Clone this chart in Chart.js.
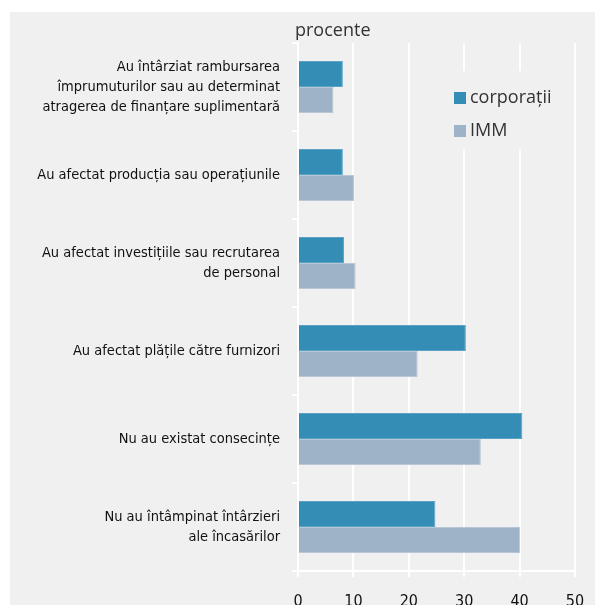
<!DOCTYPE html>
<html>
<head>
<meta charset="utf-8">
<script src="https://cdn.jsdelivr.net/npm/chart.js@4/dist/chart.umd.min.js"></script>
<style>
  html, body { margin: 0; padding: 0; background: #ffffff; }
</style>
</head>
<body>
<canvas id="chart" width="595" height="605"></canvas>
<script>
// categories (multi-line labels)
const categories = [
  ["Au întârziat rambursarea", "împrumuturilor sau au determinat", "atragerea de finanțare suplimentară"],
  "Au afectat producția sau operațiunile",
  ["Au afectat investițiile sau recrutarea", "de personal"],
  "Au afectat plățile către furnizori",
  "Nu au existat consecințe",
  ["Nu au întâmpinat întârzieri", "ale încasărilor"]
];
const corporatii = [8.1, 8.1, 8.3, 30.3, 40.5, 24.8];
const imm = [6.4, 10.1, 10.4, 21.6, 33.0, 40.1];
const seriesNames = ["corporații", "IMM"];
const xTicks = [0, 10, 20, 30, 40, 50];

const colors = ["#348db4", "#9fb3c8"];
const borders = ["#5ba3c6", "#b8c7d6"];
const panelGray = "#f0f0f0";
const labelFont = "'DejaVu Sans Condensed', 'Liberation Sans', sans-serif";
const plainFont = "'Open Sans', 'Noto Sans', sans-serif";

// gray panel + "procente" unit title
const backdrop = {
  id: "backdrop",
  beforeDraw(chart) {
    const ctx = chart.ctx;
    ctx.save();
    ctx.fillStyle = "#ffffff";
    ctx.fillRect(0, 0, chart.width, chart.height);
    ctx.fillStyle = panelGray;
    ctx.fillRect(10, 12, chart.width - 10, chart.height - 12);
    ctx.restore();
  },
  afterDraw(chart) {
    const ctx = chart.ctx;
    const area = chart.chartArea;
    ctx.save();
    ctx.fillStyle = "#333333";
    ctx.font = "18px " + plainFont;
    ctx.textBaseline = "alphabetic";
    ctx.fillText("procente", area.left - 3, area.top - 7);
    ctx.restore();
  }
};

// legend drawn inside the plot, covering grid lines
const innerLegend = {
  id: "innerLegend",
  afterDatasetsDraw(chart) {
    const ctx = chart.ctx;
    const area = chart.chartArea;
    const x0 = area.left + 142;
    const y0 = area.top + 28;
    ctx.save();
    ctx.fillStyle = panelGray;
    ctx.fillRect(x0, y0, 108, 78);
    ctx.font = "18px " + plainFont;
    ctx.textBaseline = "middle";
    seriesNames.forEach((name, i) => {
      const cy = y0 + 27 + i * 33;
      ctx.fillStyle = colors[i];
      ctx.fillRect(x0 + 14, cy - 6, 12, 12);
      ctx.fillStyle = "#333333";
      ctx.fillText(name, x0 + 30, cy);
    });
    ctx.restore();
  }
};

// keep the plot box fixed, whatever the tick label sizes
function noPad(scale) {
  scale.paddingLeft = 0;
  scale.paddingRight = 0;
  scale.paddingTop = 0;
  scale.paddingBottom = 0;
}

new Chart(document.getElementById("chart"), {
  type: "bar",
  data: {
    labels: categories,
    datasets: [
      { label: seriesNames[0], data: corporatii, backgroundColor: colors[0], borderColor: borders[0], borderWidth: 1 },
      { label: seriesNames[1], data: imm, backgroundColor: colors[1], borderColor: borders[1], borderWidth: 1 }
    ]
  },
  options: {
    responsive: false,
    animation: false,
    indexAxis: "y",
    layout: { padding: { left: 10, right: 20, top: 43, bottom: 0 } },
    datasets: { bar: { categoryPercentage: 0.59, barPercentage: 1.0 } },
    plugins: {
      legend: { display: false },
      tooltip: { enabled: false }
    },
    scales: {
      x: {
        min: 0,
        max: 50,
        afterBuildTicks(scale) { scale.ticks = xTicks.map(v => ({ value: v })); },
        afterFit(scale) { scale.height = 34; noPad(scale); },
        grid: { color: "#ffffff", lineWidth: 2, tickLength: 6 },
        border: { display: true, color: "#ffffff", width: 2 },
        ticks: { color: "#111111", font: { family: labelFont, size: 16 }, padding: 15 }
      },
      y: {
        afterFit(scale) { scale.width = 288; noPad(scale); },
        grid: { drawOnChartArea: false, color: "#ffffff", lineWidth: 2, tickLength: 6 },
        border: { display: true, color: "#ffffff", width: 2 },
        ticks: { color: "#111111", font: { family: labelFont, size: 14.5, lineHeight: 1.38 }, padding: 12 }
      }
    }
  },
  plugins: [backdrop, innerLegend]
});
</script>
</body>
</html>
